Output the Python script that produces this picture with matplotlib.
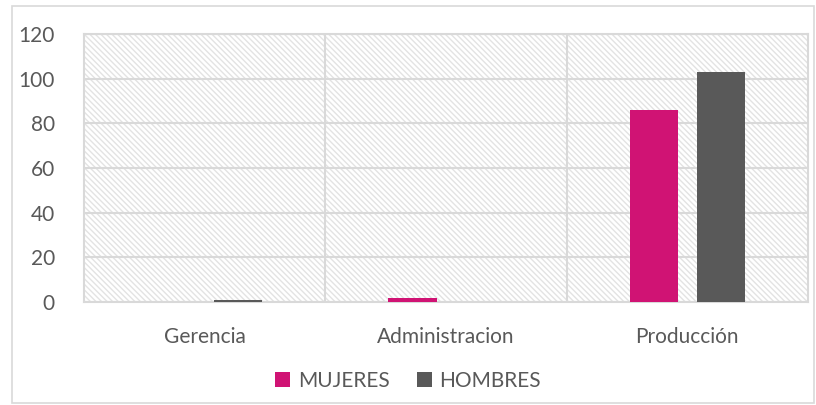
import numpy as np
import matplotlib.pyplot as plt
from matplotlib.patches import Rectangle

categorias = ['Gerencia', 'Administracion', 'Producción']
mujeres = [0, 2, 86]
hombres = [1, 0, 103]

plt.rcParams['font.family'] = ['Lato', 'DejaVu Sans']
plt.rcParams['hatch.color'] = '#e3e3e3'
plt.rcParams['hatch.linewidth'] = 1.0

fig = plt.figure(figsize=(8.16, 4.05), dpi=100)
ax = fig.add_axes([84/816, 1 - 302/405, (808 - 84)/816, (302 - 34)/405])

# outer chart border
fig.patches.append(Rectangle((12/816, 2/405), (802)/816, (397)/405, transform=fig.transFigure,
                             fill=False, edgecolor='#d9d9d9', linewidth=1.2))

# hatched plot background
ax.add_patch(Rectangle((0, 0), 1, 1, transform=ax.transAxes, facecolor='white',
                       edgecolor='#e3e3e3', hatch='\\' * 6, linewidth=0, zorder=0))

x = np.arange(len(categorias))
w = 0.2
off = 0.139
ax.bar(x - off, mujeres, w, color='#d01374', label='MUJERES', zorder=3)
ax.bar(x + off, hombres, w, color='#595959', label='HOMBRES', zorder=3)

ax.set_xlim(-0.5, 2.5)
ax.set_ylim(0, 120)
ax.set_yticks(range(0, 121, 20))
ax.set_xticks(x)
ax.set_xticklabels(categorias)
ax.yaxis.grid(True, color='#d9d9d9', linewidth=1.5, zorder=1)
for b in [0.5, 1.5]:
    ax.axvline(b, color='#d9d9d9', linewidth=1.5, zorder=1)
ax.set_axisbelow(True)
ax.tick_params(length=0, labelsize=15, colors='#595959')
ax.tick_params(axis='x', pad=18)
ax.tick_params(axis='y', pad=21)
for s in ax.spines.values():
    s.set_color('#d9d9d9')
    s.set_linewidth(1.5)

fig.legend(loc='center', bbox_to_anchor=(0.5, 1 - 381/405), ncol=2, frameon=False,
           fontsize=15, labelcolor='#595959', handlelength=0.75, handleheight=0.75,
           handletextpad=0.35, columnspacing=1.3)

fig.savefig('out.png', dpi=100)
